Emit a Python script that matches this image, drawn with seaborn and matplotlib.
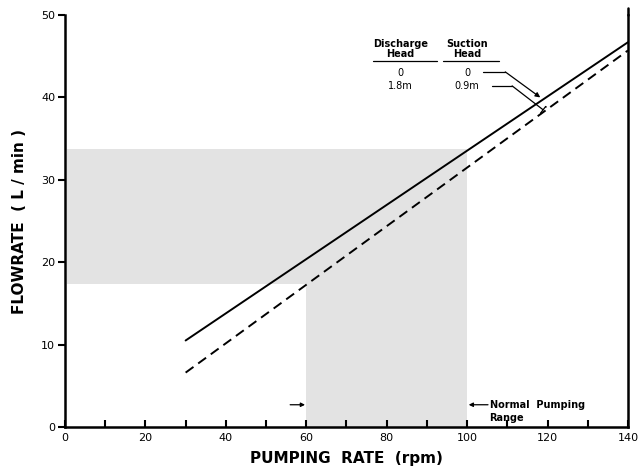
import numpy as np
import pandas as pd
import matplotlib
matplotlib.use("Agg")
import matplotlib.pyplot as plt
import seaborn as sns

# pumping rate (rpm) vs flowrate (L/min)
rpm = [30, 140]
flow_no_head = [10.5, 46.7]      # discharge head 0, suction head 0
flow_with_head = [6.6, 45.7]     # discharge head 1.8 m, suction head 0.9 m

# shaded operating region
upper_band_x = [0.5, 100]
upper_band_y = [17.3, 33.8]
normal_range_x = [60, 100]
normal_range_top = 17.3

x_ticks = list(range(0, 141, 10))
x_labels = [str(v) if v % 20 == 0 else "" for v in x_ticks]
y_ticks = [0, 10, 20, 30, 40, 50]

sns.set_style("white")
plt.rcParams["font.family"] = ["DejaVu Sans"]
plt.rcParams["text.color"] = "black"
plt.rcParams["axes.labelcolor"] = "black"
plt.rcParams["xtick.color"] = "black"
plt.rcParams["ytick.color"] = "black"

fig = plt.figure(figsize=(6.39, 4.70), dpi=100)
ax = fig.add_axes([0.1017, 0.0915, 0.881, 0.8765])

shade = "#e3e3e3"
ax.fill_between(upper_band_x, upper_band_y[0], upper_band_y[1], color=shade, lw=0, zorder=0)
ax.fill_between(normal_range_x, 0, normal_range_top, color=shade, lw=0, zorder=0)

df = pd.DataFrame({
    "rpm": rpm * 2,
    "flow": flow_no_head + flow_with_head,
    "head": ["0"] * 2 + ["0.9m"] * 2,
})
sns.lineplot(data=df, x="rpm", y="flow", style="head", dashes={"0": "", "0.9m": (5, 3)},
             color="black", lw=1.4, ax=ax, legend=False)

ax.set_xlim(0, 140)
ax.set_ylim(0, 50)
ax.set_xticks(x_ticks)
ax.set_xticklabels(x_labels, fontsize=8)
ax.set_yticks(y_ticks)
ax.set_yticklabels([str(v) for v in y_ticks], fontsize=8)
ax.tick_params(axis="x", bottom=True, direction="in", length=5, width=1.5, pad=4)
ax.tick_params(axis="y", left=True, direction="out", length=5, width=1.5, pad=2)

for s in ["top"]:
    ax.spines[s].set_visible(False)
for s in ["left", "bottom", "right"]:
    ax.spines[s].set_linewidth(1.8)
    ax.spines[s].set_color("black")
ax.spines["right"].set_bounds(0, 50)
ax.plot([140, 140], [50, 50.9], color="black", lw=1.8, clip_on=False)

ax.set_xlabel("PUMPING  RATE  (rpm)", fontsize=11, fontweight="bold", labelpad=6)
ax.set_ylabel("FLOWRATE  ( L / min )", fontsize=11, fontweight="bold", labelpad=10)

# head legend in upper right
ax.text(83.4, 45.9, "Discharge\nHead", ha="center", va="center", fontsize=7, fontweight="bold",
        linespacing=1.0)
ax.text(100.0, 45.9, "Suction\nHead", ha="center", va="center", fontsize=7, fontweight="bold",
        linespacing=1.0)
ax.plot([76.5, 92.5], [44.4, 44.4], color="black", lw=0.9)
ax.plot([94, 108], [44.4, 44.4], color="black", lw=0.9)
ax.text(83.4, 43.0, "0", ha="center", va="center", fontsize=7)
ax.text(83.4, 41.4, "1.8m", ha="center", va="center", fontsize=7)
ax.text(100.0, 43.0, "0", ha="center", va="center", fontsize=7)
ax.text(100.0, 41.4, "0.9m", ha="center", va="center", fontsize=7)

ax.plot([104, 109.5], [43.1, 43.1], color="black", lw=0.9)
ax.annotate("", xy=(118.2, 40.0), xytext=(109.5, 43.1),
            arrowprops=dict(arrowstyle="-|>", color="black", lw=0.9, mutation_scale=7,
                            shrinkA=0, shrinkB=0))
ax.plot([106.2, 111.2], [41.4, 41.4], color="black", lw=0.9)
ax.annotate("", xy=(118.9, 38.5), xytext=(111.2, 41.4),
            arrowprops=dict(arrowstyle="-[", color="black", lw=0.9, mutation_scale=3,
                            shrinkA=0, shrinkB=0))

# normal pumping range markers
ax.annotate("", xy=(59.7, 2.7), xytext=(56, 2.7),
            arrowprops=dict(arrowstyle="-|>", color="black", lw=0.9, mutation_scale=6,
                            shrinkA=0, shrinkB=0))
ax.annotate("", xy=(100.4, 2.7), xytext=(105.2, 2.7),
            arrowprops=dict(arrowstyle="-|>", color="black", lw=0.9, mutation_scale=6,
                            shrinkA=0, shrinkB=0))
ax.text(105.6, 2.7, "Normal  Pumping", ha="left", va="center", fontsize=7, fontweight="bold")
ax.text(105.6, 1.1, "Range", ha="left", va="center", fontsize=7, fontweight="bold")

fig.savefig("out.png", dpi=100)
